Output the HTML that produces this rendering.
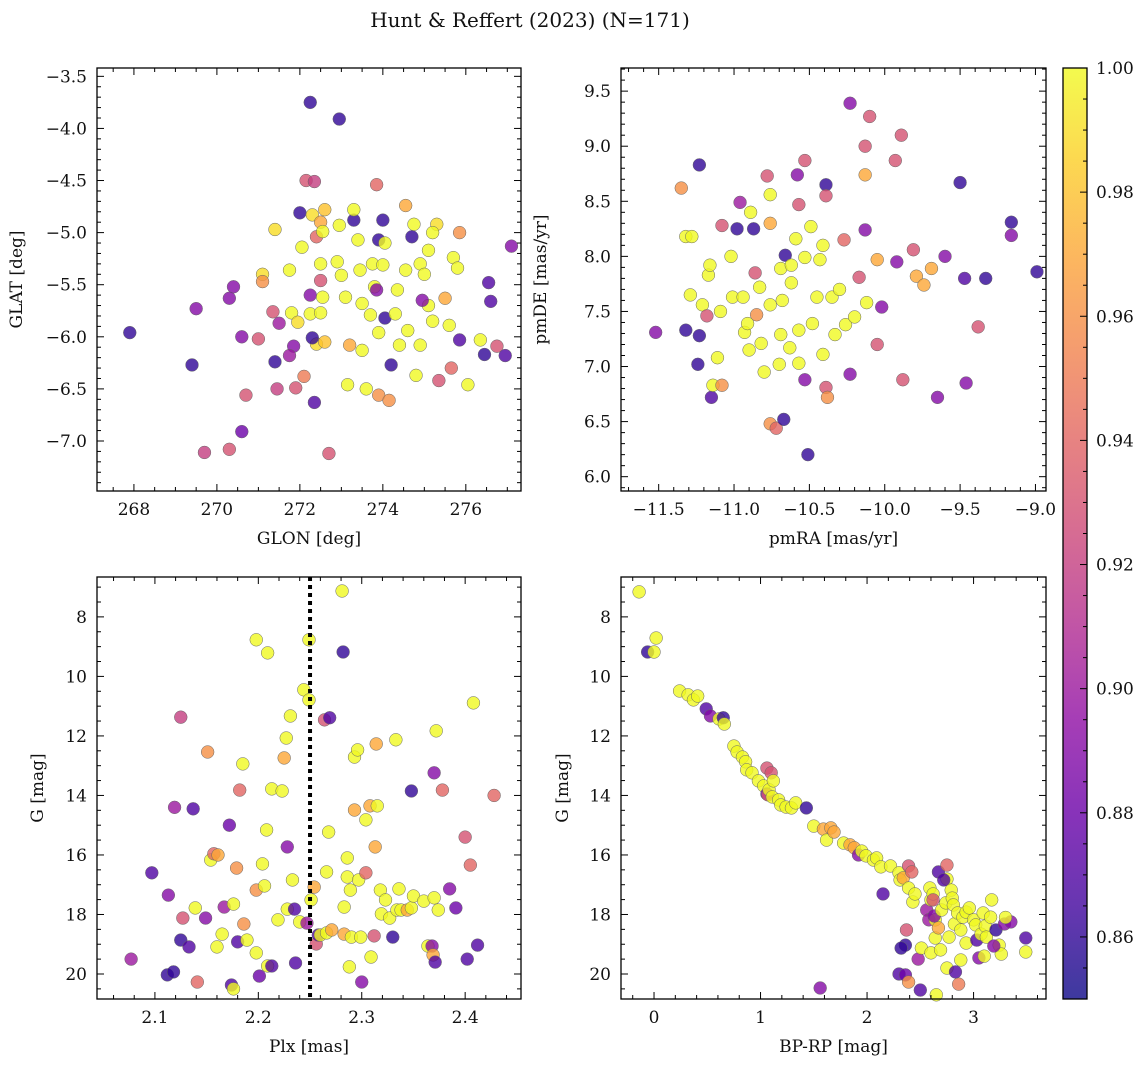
<!DOCTYPE html>
<html><head><meta charset="utf-8"><style>
body{margin:0;background:#fff;}
svg text{font-family:"DejaVu Serif","Liberation Serif",serif;fill:#111;}
</style></head><body>
<svg id="chart" width="1148" height="1067" viewBox="0 0 1148 1067" xmlns="http://www.w3.org/2000/svg">
<text x="530" y="27" font-size="20" text-anchor="middle">Hunt &amp; Reffert (2023) (N=171)</text>
</svg>
<script>
// Panel 1: GLON / GLAT
const glon=[267.9,269.4,269.5,269.7,270.3,270.4,270.3,270.6,270.6,270.7,271.0,271.1,271.1,271.35,271.4,271.4,271.45,271.5,271.75,271.8,271.85,271.75,271.9,271.95,272.05,272.0,272.15,272.25,272.1,272.3,272.25,272.35,272.4,272.4,272.3,272.5,272.5,272.35,272.55,272.5,272.55,272.5,272.6,272.25,272.95,272.7,272.6,272.9,272.95,273.0,273.1,273.15,273.2,273.3,273.3,273.4,273.45,273.5,273.5,273.6,273.7,273.75,273.8,273.9,273.85,274.0,274.05,274.0,273.9,273.85,274.05,273.9,274.15,274.2,274.3,274.35,274.4,274.55,274.55,274.6,274.7,274.75,274.8,274.9,275.0,275.1,275.1,275.2,275.3,274.9,274.95,275.35,275.5,275.6,275.7,275.8,275.2,275.85,275.85,276.05,275.65,276.35,276.45,276.55,276.6,276.75,276.95,277.1];
const glat=[-5.96,-6.27,-5.73,-7.11,-7.08,-5.52,-5.63,-6.0,-6.91,-6.56,-6.02,-5.4,-5.47,-5.76,-4.97,-6.24,-6.5,-5.87,-5.36,-5.77,-6.09,-6.18,-6.49,-5.86,-5.14,-4.81,-4.5,-5.6,-6.38,-4.83,-5.78,-4.51,-5.04,-6.07,-6.01,-4.9,-5.46,-6.63,-4.99,-5.3,-5.62,-5.77,-6.05,-3.75,-3.91,-7.12,-4.78,-5.28,-4.93,-5.41,-5.62,-6.46,-6.08,-4.88,-4.78,-5.07,-5.36,-5.68,-6.13,-6.5,-5.79,-5.3,-5.52,-5.07,-4.54,-4.88,-5.1,-5.31,-5.96,-5.55,-5.82,-6.56,-6.61,-6.27,-5.78,-5.55,-6.08,-4.74,-5.36,-5.94,-5.04,-4.92,-6.37,-5.3,-5.4,-5.17,-5.7,-5.85,-4.92,-6.08,-5.65,-6.42,-5.63,-5.89,-5.24,-5.34,-5.0,-5.0,-6.03,-6.46,-6.3,-6.03,-6.17,-5.48,-5.66,-6.09,-6.18,-5.13];
const prob1=[.86,.86,.89,.92,.93,.89,.89,.89,.88,.93,.93,.99,.96,.93,.99,.86,.92,.9,1,1,.89,.9,.93,.99,1,.86,.93,.89,.95,.99,1,.92,.94,.99,.86,.97,.93,.87,1,1,1,1,.98,.86,.86,.93,.98,1,1,1,1,1,.97,.86,1,1,1,1,1,1,1,1,1,.86,.94,.86,1,1,1,.89,.86,.96,.96,.86,1,1,1,.97,1,1,.86,1,1,1,1,1,1,1,.99,1,.89,.93,.97,1,1,1,1,.96,.87,1,.94,1,.86,.87,.87,.93,.87,.89];
// Panel 2: pmRA / pmDE
const pmra=[-11.52,-11.35,-11.32,-11.28,-11.32,-11.29,-11.23,-11.23,-11.24,-11.21,-11.18,-11.17,-11.16,-11.15,-11.14,-11.11,-11.09,-11.08,-11.08,-11.02,-11.01,-10.98,-10.96,-10.94,-10.93,-10.91,-10.89,-10.9,-10.87,-10.86,-10.85,-10.83,-10.82,-10.8,-10.78,-10.76,-10.76,-10.76,-10.76,-10.72,-10.7,-10.69,-10.69,-10.68,-10.67,-10.66,-10.63,-10.62,-10.59,-10.58,-10.57,-10.57,-10.57,-10.53,-10.53,-10.53,-10.48,-10.45,-10.51,-10.49,-10.43,-10.41,-10.41,-10.39,-10.39,-10.39,-10.38,-10.35,-10.33,-10.27,-10.26,-10.23,-10.23,-10.17,-10.13,-10.13,-10.13,-10.1,-10.05,-10.05,-10.02,-9.93,-9.89,-9.92,-9.88,-9.81,-9.79,-9.74,-9.69,-9.65,-9.6,-9.5,-9.47,-9.46,-9.38,-9.33,-9.16,-9.16,-8.99,-10.3,-10.2,-10.12,-10.62];
const pmde=[7.31,8.62,8.18,8.18,7.33,7.65,8.83,7.28,7.02,7.56,7.46,7.83,7.92,6.72,6.83,7.08,7.5,8.28,6.83,8.0,7.63,8.25,8.49,7.63,7.31,7.39,8.4,7.15,8.25,7.85,7.47,7.72,7.21,6.95,8.73,8.3,8.56,7.56,6.48,6.44,7.02,7.89,7.29,7.6,6.52,8.01,7.17,7.92,8.16,8.74,8.47,7.33,7.03,8.87,7.99,6.88,7.39,7.63,6.2,8.27,7.97,8.1,7.11,8.65,8.55,6.81,6.72,7.63,7.29,8.15,7.38,9.39,6.93,7.81,8.74,9.0,8.24,9.27,7.97,7.2,7.54,8.87,9.1,7.95,6.88,8.06,7.82,7.74,7.89,6.72,8.0,8.67,7.8,6.85,7.36,7.8,8.19,8.31,7.86,7.7,7.45,7.58,7.76];
const prob2=[.89,.96,1,1,.86,1,.86,.86,.86,1,.93,1,1,.87,1,1,1,.93,.96,1,1,.86,.9,1,1,1,1,1,.86,.93,.96,1,1,1,.93,.97,1,1,.96,.94,1,1,1,1,.86,.86,1,1,1,.89,.93,1,1,.93,1,.89,1,1,.86,1,1,1,1,.86,.93,.93,.96,1,1,.94,1,.89,.89,.93,.97,.93,.89,.93,.97,.93,.89,.93,.93,.89,.93,.93,.97,.97,.97,.89,.89,.86,.87,.89,.93,.86,.89,.86,.86,1,1,1,1];
// Panel 3: Plx / G
const plx=[2.077,2.097,2.113,2.125,2.119,2.112,2.118,2.125,2.127,2.137,2.133,2.139,2.141,2.149,2.151,2.154,2.157,2.16,2.161,2.165,2.167,2.172,2.174,2.176,2.179,2.18,2.176,2.182,2.185,2.186,2.189,2.198,2.198,2.198,2.201,2.204,2.206,2.209,2.208,2.209,2.213,2.213,2.219,2.223,2.225,2.228,2.228,2.227,2.231,2.233,2.235,2.236,2.24,2.244,2.249,2.249,2.251,2.254,2.256,2.258,2.247,2.26,2.266,2.264,2.266,2.268,2.269,2.271,2.281,2.282,2.283,2.283,2.286,2.286,2.288,2.289,2.29,2.293,2.296,2.293,2.297,2.299,2.3,2.304,2.304,2.308,2.309,2.312,2.313,2.314,2.315,2.318,2.319,2.323,2.327,2.33,2.333,2.334,2.336,2.338,2.344,2.348,2.348,2.35,2.36,2.364,2.368,2.369,2.371,2.37,2.372,2.37,2.374,2.378,2.385,2.391,2.4,2.402,2.405,2.408,2.412,2.428];
const gmag3=[19.5,16.6,17.35,11.37,14.4,20.03,19.93,18.86,18.12,14.45,19.09,17.78,20.27,18.12,12.54,16.17,15.96,19.09,16.0,18.66,17.75,15.0,20.37,17.65,16.44,18.92,20.5,13.82,12.94,18.32,18.86,8.77,19.29,17.18,20.07,16.3,17.04,9.21,15.16,19.73,19.73,13.78,18.18,13.85,12.74,17.82,15.73,12.07,11.33,16.84,17.82,19.63,18.25,10.45,8.77,10.79,17.51,17.08,18.99,18.69,18.29,18.69,18.62,11.46,16.57,15.23,11.39,18.52,7.13,9.18,17.75,18.66,16.1,16.74,19.76,17.18,18.76,12.71,12.47,14.49,16.84,18.76,20.27,16.6,14.82,14.35,19.43,18.72,15.73,12.27,14.35,17.18,17.98,17.51,18.12,18.76,12.13,17.85,17.14,17.85,17.85,17.78,13.85,17.38,17.55,19.06,19.06,19.36,19.6,13.24,11.83,17.44,17.85,13.82,17.14,17.78,15.4,19.5,16.34,10.89,19.03,14.0];
const prob3=[.9,.87,.89,.92,.9,.86,.86,.86,.93,.87,.87,1,.94,.89,.96,1,.94,1,.97,1,.9,.88,.87,1,.96,.87,1,.94,1,.96,1,1,1,.96,.88,1,1,1,1,1,.87,1,1,1,.97,1,.89,1,1,1,.87,.87,1,1,1,1,1,.97,.93,.87,.9,1,1,.93,1,1,.87,.97,1,.86,1,.97,1,1,1,1,1,1,1,.97,1,1,.89,.94,1,.97,1,.93,.97,.97,1,1,1,1,1,.86,1,1,1,1,.97,1,.86,1,1,1,.89,.97,.87,.89,1,1,1,.94,.89,.88,.93,.87,.94,1,.87,.94];
// Panel 4: BP-RP / G
const bprp=[-0.14,-0.06,0.0,0.02,0.24,0.32,0.37,0.41,0.49,0.53,0.61,0.65,0.66,0.75,0.78,0.83,0.86,0.87,0.92,0.98,1.03,1.06,1.07,1.06,1.10,1.08,1.12,1.11,1.17,1.19,1.24,1.29,1.33,1.43,1.5,1.59,1.62,1.66,1.69,1.78,1.84,1.88,1.92,1.95,1.99,2.06,2.09,2.13,2.15,2.22,2.3,2.31,2.34,2.39,2.42,2.39,2.43,2.45,2.36,2.32,2.3,2.36,2.39,2.37,2.48,2.51,2.5,2.56,2.58,2.59,2.6,2.62,2.64,2.64,2.67,2.63,2.65,2.7,2.74,2.75,2.77,2.75,2.79,2.8,2.82,2.81,2.85,2.86,2.88,2.9,2.88,2.93,2.93,2.96,3.0,3.02,3.03,3.05,3.07,3.09,3.11,3.12,3.16,3.17,3.21,3.24,3.26,3.29,3.35,3.49,3.49,2.67,2.72,2.75,2.83,2.6,2.69,1.56,2.62,3.19,3.3,3.1];
const gmag4=[7.16,9.18,9.18,8.71,10.49,10.62,10.79,10.66,11.09,11.33,11.43,11.39,11.6,12.34,12.54,12.71,12.87,13.14,13.24,13.51,13.68,13.95,13.98,13.08,13.24,13.81,13.51,14.05,14.15,14.32,14.39,14.42,14.25,14.42,15.03,15.13,15.5,15.09,15.23,15.6,15.66,15.76,16.0,15.87,16.03,16.17,16.1,16.4,17.31,16.37,16.6,16.84,16.77,16.37,16.57,17.11,17.58,17.31,19.03,19.13,20.0,20.03,20.27,18.52,19.5,19.13,20.54,17.85,18.18,17.11,17.51,17.31,18.79,18.18,18.45,18.05,20.7,17.85,17.61,16.81,18.76,19.8,17.18,17.45,18.32,17.68,17.95,20.34,19.53,18.09,18.52,17.92,18.96,17.78,18.18,18.35,18.86,19.46,18.66,17.95,18.39,18.76,18.09,17.51,18.52,19.03,19.33,18.32,18.25,18.79,19.26,16.57,16.84,16.34,19.93,19.29,19.19,20.47,17.51,19.06,18.1,19.4];
const prob4=[1,.86,1,1,1,1,1,1,.87,.89,1,.86,1,1,1,1,1,1,1,1,1,.89,.93,.93,.93,1,1,1,1,1,1,1,1,.86,1,.97,1,.97,.97,1,.97,.97,.89,1,1,1,1,1,.87,1,1,1,.97,.93,.94,1,1,1,.86,.86,.87,.88,.96,.93,.9,1,.87,.9,.9,1,1,1,1,1,.97,.89,1,1,1,1,1,1,1,1,1,1,1,.95,1,1,1,1,1,1,1,1,.87,.89,1,1,1,1,1,1,.86,1,1,.89,.89,.87,1,.87,.87,.94,.87,1,1,.89,.93,.89,1,1];
const cbTicks=[0.86,0.88,0.90,0.92,0.94,0.96,0.98,1.00];

const NS="http://www.w3.org/2000/svg";
const svg=document.getElementById('chart');
function mk(tag,attrs,parent){const e=document.createElementNS(NS,tag);for(const k in attrs)e.setAttribute(k,attrs[k]);(parent||svg).appendChild(e);return e;}
const stops=['#0d0887','#41049d','#6a00a8','#8f0da4','#b12a90','#cc4778','#e16462','#f2844b','#fca636','#fcce25','#f0f921'];
function hx(c){return [parseInt(c.slice(1,3),16),parseInt(c.slice(3,5),16),parseInt(c.slice(5,7),16)];}
function plasma(t){t=Math.max(0,Math.min(1,t));const f=t*10,i=Math.min(9,Math.floor(f)),r=f-i;const a=hx(stops[i]),b=hx(stops[i+1]);return 'rgb('+a.map((v,k)=>Math.round(v+(b[k]-v)*r)).join(',')+')';}
const vmin=0.85,vmax=1.0;
const FS=17;

function panel(cfg){
  const {name,x0,x1,y0,y1,xd,yd,xs,ys,minx,miny,xlabel,ylabel,ylx,fmtx,fmty}=cfg;
  const g=mk('g',{});
  
  
  const sx=v=>x0+(v-xd[0])/(xd[1]-xd[0])*(x1-x0);
  const sy=cfg.inv? (v=>y0+(v-yd[0])/(yd[1]-yd[0])*(y1-y0)) : (v=>y1-(v-yd[0])/(yd[1]-yd[0])*(y1-y0));
  const xv=cfg.xv,yv=cfg.yv,pv=cfg.pv;
  for(let i=0;i<xv.length;i++){
    const c=mk('circle',{cx:sx(xv[i]),cy:sy(yv[i]),r:6.4,fill:plasma((pv[i]-vmin)/(vmax-vmin)),'fill-opacity':0.8,stroke:'#666','stroke-width':0.5},g);
    
    
  }
  if(cfg.vline!==undefined){
    const l=mk('line',{x1:sx(cfg.vline),x2:sx(cfg.vline),y1:y0,y2:y1,stroke:'#000','stroke-width':4,'stroke-dasharray':'4,4'},g);
    
    
  }
  const fr=mk('rect',{x:x0,y:y0,width:x1-x0,height:y1-y0,fill:'none',stroke:'#000','stroke-width':1.3},g);
  
  
  const lo=Math.min(xd[0],xd[1]),hi=Math.max(xd[0],xd[1]);
  for(let k=Math.ceil(lo/minx-1e-6);k*minx<=hi+1e-9;k++){
    const v=k*minx,x=sx(v),maj=Math.abs(v/xs-Math.round(v/xs))<1e-6,L=maj?7:4;
    mk('line',{x1:x,x2:x,y1:y1,y2:y1-L,stroke:'#000','stroke-width':1},g);
    mk('line',{x1:x,x2:x,y1:y0,y2:y0+L,stroke:'#000','stroke-width':1},g);
    if(maj){const t=mk('text',{x:x,y:y1+24,'font-size':FS,'text-anchor':'middle'},g);t.textContent=fmtx(v);
      
      }
  }
  const ylo=Math.min(yd[0],yd[1]),yhi=Math.max(yd[0],yd[1]);
  for(let k=Math.ceil(ylo/miny-1e-6);k*miny<=yhi+1e-9;k++){
    const v=k*miny,y=sy(v),maj=Math.abs(v/ys-Math.round(v/ys))<1e-6,L=maj?7:4;
    mk('line',{x1:x0,x2:x0+L,y1:y,y2:y,stroke:'#000','stroke-width':1},g);
    mk('line',{x1:x1,x2:x1-L,y1:y,y2:y,stroke:'#000','stroke-width':1},g);
    if(maj){const t=mk('text',{x:x0-10,y:y+6,'font-size':FS,'text-anchor':'end'},g);t.textContent=fmty(v);
      
      }
  }
  const xl=mk('text',{x:(x0+x1)/2,y:y1+53,'font-size':FS,'text-anchor':'middle'},g);xl.textContent=xlabel;
  
  
  const yc=(y0+y1)/2;
  const yl=mk('text',{x:ylx,y:yc,'font-size':FS,'text-anchor':'middle',transform:`rotate(-90 ${ylx} ${yc})`},g);yl.textContent=ylabel;
  
  
}
const f1=v=>(v<-1e-9?'\u2212':'')+Math.abs(v).toFixed(1);
panel({name:'glon-glat-panel',x0:97,x1:521,y0:68,y1:491,xd:[267.11,277.33],yd:[-7.48,-3.42],xs:2,minx:0.5,ys:0.5,miny:0.1,
  xv:glon,yv:glat,pv:prob1,xlabel:'GLON [deg]',ylabel:'GLAT [deg]',ylx:22,fmtx:v=>String(Math.round(v)),fmty:f1});
panel({name:'pm-panel',x0:621,x1:1046,y0:68,y1:491,xd:[-11.75,-8.93],yd:[5.87,9.71],xs:0.5,minx:0.1,ys:0.5,miny:0.1,
  xv:pmra,yv:pmde,pv:prob2,xlabel:'pmRA [mas/yr]',ylabel:'pmDE [mas/yr]',ylx:546,fmtx:f1,fmty:f1});
panel({name:'plx-g-panel',x0:97,x1:521,y0:577,y1:999,xd:[2.044,2.454],yd:[6.66,20.84],inv:true,xs:0.1,minx:0.02,ys:2,miny:0.5,
  xv:plx,yv:gmag3,pv:prob3,vline:2.25,xlabel:'Plx [mas]',ylabel:'G [mag]',ylx:43,fmtx:v=>v.toFixed(1),fmty:v=>String(Math.round(v))});
panel({name:'cmd-panel',x0:621,x1:1046,y0:577,y1:999,xd:[-0.31,3.68],yd:[6.66,20.84],inv:true,xs:1,minx:0.2,ys:2,miny:0.5,
  xv:bprp,yv:gmag4,pv:prob4,xlabel:'BP-RP [mag]',ylabel:'G [mag]',ylx:568,fmtx:v=>String(Math.round(v)),fmty:v=>String(Math.round(v))});

// colorbar
const cb=mk('g',{});


const defs=mk('defs',{},cb);
const lg=mk('linearGradient',{id:'pl',x1:0,y1:1,x2:0,y2:0},defs);
for(let i=0;i<=20;i++)mk('stop',{offset:i/20,'stop-color':plasma(i/20)},lg);
const cy0=68,cy1=999,cx0=1063,cx1=1087;
mk('rect',{x:cx0,y:cy0,width:cx1-cx0,height:cy1-cy0,fill:'url(#pl)','fill-opacity':0.8},cb);
mk('rect',{x:cx0,y:cy0,width:cx1-cx0,height:cy1-cy0,fill:'none',stroke:'#000','stroke-width':1.3},cb);
const cys=v=>cy1-(v-vmin)/(vmax-vmin)*(cy1-cy0);
for(let k=170;k<=200;k++){const v=k*0.005,y=cys(v),maj=k%4===0;mk('line',{x1:cx1,x2:cx1-(maj?7:4),y1:y,y2:y,stroke:'#000','stroke-width':1},cb);}
cbTicks.forEach(v=>{const t=mk('text',{x:1096,y:cys(v)+6,'font-size':FS},cb);t.textContent=v.toFixed(2);
  
  });
</script>
</body></html>
